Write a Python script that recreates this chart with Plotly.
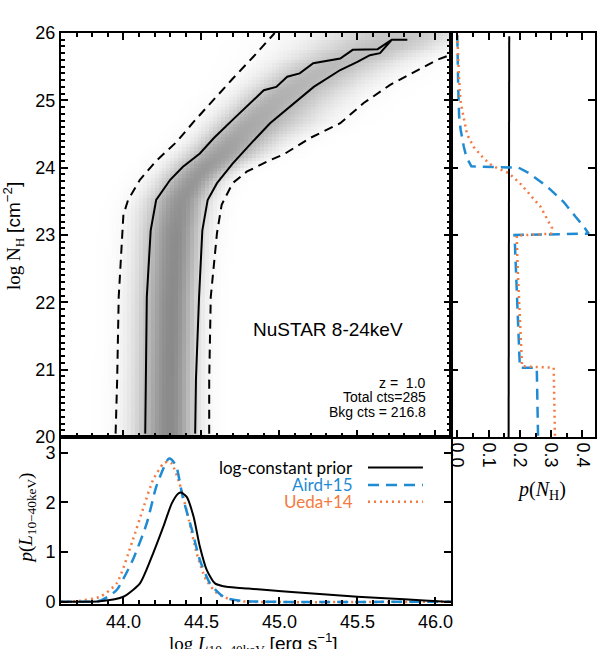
import numpy as np
import plotly.graph_objects as go

BLUE = "#1f8bd2"
ORANGE = "#f47a40"

# main panel contours (log L, log NH)
in_lo_L = [44.14, 44.143, 44.15, 44.175, 44.21, 44.30, 44.38, 44.49, 44.58, 44.70, 44.83, 44.90,
           44.98, 45.05, 45.13, 45.217, 45.39, 45.47, 45.63, 45.72, 45.82]
in_lo_NH = [20.05, 20.85, 22.08, 23.07, 23.52, 23.82, 24.01, 24.21, 24.44, 24.71, 25.0, 25.15,
            25.2, 25.35, 25.4, 25.55, 25.62, 25.75, 25.76, 25.90, 25.90]
in_hi_L = [44.46, 44.465, 44.485, 44.506, 44.54, 44.60, 44.70, 44.83, 44.94, 45.05, 45.13, 45.22,
           45.39, 45.50, 45.58, 45.645, 45.72]
in_hi_NH = [20.05, 20.85, 22.08, 23.07, 23.52, 23.77, 24.06, 24.39, 24.66, 24.88, 25.03, 25.20,
            25.45, 25.57, 25.67, 25.70, 25.90]
out_lo_L = [43.95, 43.96, 43.97, 43.99, 44.0, 44.03, 44.106, 44.21, 44.34, 44.45, 44.58, 44.70,
            44.83, 44.94, 44.97]
out_lo_NH = [20.05, 20.85, 22.08, 23.03, 23.3, 23.52, 23.82, 24.1, 24.38, 24.68, 25.02, 25.32,
             25.64, 25.92, 26.0]
out_hi_L = [44.55, 44.55, 44.56, 44.60, 44.63, 44.70, 44.79, 44.92, 45.03, 45.196, 45.39, 45.54,
            45.71, 46.01, 46.1]
out_hi_NH = [20.05, 20.85, 22.08, 23.03, 23.45, 23.77, 23.94, 24.09, 24.2, 24.44, 24.66, 24.96,
             25.23, 25.60, 25.68]

# darkness of the ridge of the density map along NH
ridge_NH = [20.0, 22.0, 23.0, 24.0, 24.5, 25.0, 25.5, 26.0]
ridge_level = [0.92, 0.92, 0.9, 0.8, 0.7, 0.62, 0.54, 0.46]

# right panel: p(NH)
nh_const = [20.0, 21.0, 22.0, 23.0, 24.0, 25.0, 25.95]
p_const = [0.164, 0.164, 0.164, 0.165, 0.165, 0.166, 0.166]
nh_aird = [20.02, 20.5, 21.03, 21.03, 21.5, 22.0, 22.5, 23.0, 23.02, 23.15, 23.27, 23.49, 23.72,
           23.92, 24.0, 24.02, 24.16, 24.31, 24.56, 24.76, 25.2, 25.6, 26.0]
p_aird = [0.258, 0.256, 0.254, 0.200, 0.196, 0.192, 0.187, 0.183, 0.420, 0.400, 0.378, 0.340,
          0.287, 0.228, 0.196, 0.045, 0.029, 0.021, 0.011, 0.006, 0.003, 0.001, 0.0]
nh_ueda = [20.02, 20.5, 21.03, 21.05, 21.5, 22.0, 22.5, 22.99, 23.02, 23.1, 23.42, 23.77, 23.92,
           24.03, 24.14, 24.31, 24.5, 24.8, 25.0, 25.4, 25.8, 26.0]
p_ueda = [0.312, 0.311, 0.308, 0.207, 0.202, 0.197, 0.193, 0.190, 0.300, 0.303, 0.266, 0.200,
          0.164, 0.111, 0.084, 0.052, 0.031, 0.018, 0.010, 0.005, 0.002, 0.0]

# bottom panel: p(L)
L_const = [43.6, 43.85, 44.0, 44.106, 44.19, 44.256, 44.31, 44.352, 44.37, 44.406, 44.45, 44.49,
           44.534, 44.587, 44.66, 44.8, 44.92, 45.1, 45.5, 45.8, 46.07, 46.1]
pL_const = [0.0, 0.01, 0.1, 0.37, 0.97, 1.51, 1.98, 2.18, 2.2, 2.11, 1.71, 1.11,
            0.64, 0.37, 0.30, 0.265, 0.235, 0.19, 0.10, 0.05, 0.0, 0.0]
L_aird = [43.6, 43.8, 43.85, 43.9, 43.957, 44.06, 44.15, 44.21, 44.27, 44.29, 44.31, 44.34, 44.38,
          44.44, 44.49, 44.555, 44.62, 44.66, 44.75, 44.9, 46.1]
pL_aird = [0.0, 0.005, 0.02, 0.1, 0.235, 0.84, 1.58, 2.31, 2.78, 2.88, 2.86, 2.72, 2.11,
           1.44, 0.84, 0.37, 0.15, 0.07, 0.02, 0.0, 0.0]
L_ueda = [43.6, 43.7, 43.85, 43.957, 44.06, 44.13, 44.19, 44.256, 44.285, 44.31, 44.36, 44.42,
          44.47, 44.53, 44.6, 44.7, 44.8, 46.1]
pL_ueda = [0.0, 0.01, 0.1, 0.37, 1.24, 1.91, 2.45, 2.78, 2.82, 2.78, 2.38, 1.64,
           0.97, 0.44, 0.17, 0.03, 0.0, 0.0]

legend_names = ["log-constant prior", "Aird+15", "Ueda+14"]

# density map built around the contours
L_grid = np.arange(43.6125, 46.1, 0.025)
NH_grid = np.arange(20.025, 26.0, 0.05)
slope = (out_hi_L[-1] - out_hi_L[-2]) / (out_hi_NH[-1] - out_hi_NH[-2])
z = np.zeros((len(NH_grid), len(L_grid)))
for i, nh in enumerate(NH_grid):
    c = 0.5 * (np.interp(nh, in_lo_NH, in_lo_L) + np.interp(nh, in_hi_NH, in_hi_L))
    lo = np.interp(nh, out_lo_NH, out_lo_L)
    hi = np.interp(nh, out_hi_NH, out_hi_L)
    if nh > out_hi_NH[-1]:
        hi = out_hi_L[-1] + slope * (nh - out_hi_NH[-1])
    t = np.where(L_grid < c, (c - L_grid) / (c - lo), (L_grid - c) / (hi - c))
    z[i] = np.interp(nh, ridge_NH, ridge_level) * np.exp(-0.5 * (2.3 * t) ** 2)

fig = go.Figure()
fig.add_trace(go.Heatmap(x=L_grid, y=NH_grid, z=z, zmin=0, zmax=1, showscale=False,
                         colorscale=[[0, "#ffffff"], [1, "#808080"]], zsmooth=False,
                         xaxis="x", yaxis="y", hoverinfo="skip"))
fig.add_trace(go.Scatter(x=in_lo_L + in_hi_L[::-1], y=in_lo_NH + in_hi_NH[::-1], mode="lines",
                         line=dict(color="black", width=2), xaxis="x", yaxis="y"))
for xs, ys in [(out_lo_L, out_lo_NH), (out_hi_L, out_hi_NH)]:
    fig.add_trace(go.Scatter(x=xs, y=ys, mode="lines", line=dict(color="black", width=2, dash="9px,6px"),
                             xaxis="x", yaxis="y"))

styles = [dict(color="black", width=2),
          dict(color=BLUE, width=2.5, dash="11px,7px"),
          dict(color=ORANGE, width=2.5, dash="2px,4px")]

for p, nh, st in [(p_const, nh_const, styles[0]), (p_aird, nh_aird, styles[1]), (p_ueda, nh_ueda, styles[2])]:
    fig.add_trace(go.Scatter(x=p, y=nh, mode="lines", line=st, xaxis="x2", yaxis="y2"))

for L, pl, st in [(L_ueda, pL_ueda, styles[2]), (L_aird, pL_aird, styles[1]), (L_const, pL_const, styles[0])]:
    fig.add_trace(go.Scatter(x=L, y=pl, mode="lines", line=dict(st, shape="spline", smoothing=0.6),
                             xaxis="x3", yaxis="y3"))

ax = dict(showline=True, linecolor="black", linewidth=2, mirror="ticks", ticks="inside",
          ticklen=7, tickwidth=1.5, tickcolor="black", showgrid=False, zeroline=False,
          automargin=False, tickfont=dict(family="Liberation Sans", size=18, color="black"))

def minor(d, n=4):
    return dict(ticks="inside", ticklen=n, tickwidth=1.5, tickcolor="black", dtick=d, showgrid=False)

xd = 390 / 534
yd = 167 / 571
fig.update_layout(
    template="none",
    width=598, height=649, margin=dict(l=61, r=3, t=33, b=45, autoexpand=False),
    paper_bgcolor="white", plot_bgcolor="white", showlegend=False,
    font=dict(family="Liberation Sans", color="black"),
    xaxis=dict(ax, domain=[0, xd], anchor="y", range=[43.6, 46.1], tick0=44, dtick=0.5,
               minor=minor(0.1), showticklabels=False),
    yaxis=dict(ax, domain=[yd, 1], anchor="x", range=[20, 26], dtick=1, minor=minor(0.1)),
    xaxis2=dict(ax, domain=[xd, 1], anchor="y2", range=[-0.02, 0.44], tick0=0, dtick=0.1,
                tickformat=".1f", tickangle=90, minor=minor(0.05)),
    yaxis2=dict(ax, domain=[yd, 1], anchor="x2", matches="y", range=[20, 26], dtick=1,
                showticklabels=False),
    xaxis3=dict(ax, domain=[0, xd], anchor="y3", matches="x", range=[43.6, 46.1], tick0=44,
                dtick=0.5, tickformat=".1f", minor=minor(0.1), mirror=True),
    yaxis3=dict(ax, domain=[0, yd], anchor="x3", range=[-0.046, 3.316], dtick=1),
)

serif = "Liberation Serif"
sans = "Liberation Sans"
ann = []
ann.append(dict(text="NuSTAR 8-24keV", x=45.31, y=21.59, xref="x", yref="y", showarrow=False,
                xanchor="center", yanchor="middle", font=dict(family=sans, size=19, color="black")))
for txt, yy in [("z =  1.0", 20.80), ("Total cts=285", 20.59), ("Bkg cts = 216.8", 20.37)]:
    ann.append(dict(text=txt, x=45.953, y=yy, xref="x", yref="y", xanchor="right", yanchor="middle",
                    showarrow=False, font=dict(family=sans, size=14, color="black")))
ann.append(dict(text="log N<sub>H</sub> <span style='font-family:Liberation Sans'>[cm<sup>−2</sup>]</span>",
                x=-0.088, y=0.6445, xref="paper", yref="paper", xanchor="center", yanchor="middle",
                textangle=-90, showarrow=False, font=dict(family=serif, size=19, color="black")))
ann.append(dict(text="<i>p</i>(<i>L</i><sub>10−40keV</sub>)", x=-0.064, y=0.151, xref="paper",
                yref="paper", xanchor="center", yanchor="middle", textangle=-90, showarrow=False,
                font=dict(family=serif, size=19, color="black")))
ann.append(dict(text="log <i>L</i><sub>10−40keV</sub> <span style='font-family:Liberation Sans'>[erg s<sup>−1</sup>]</span>",
                x=0.36, y=-0.042, xref="paper", yref="paper", xanchor="center", yanchor="top",
                showarrow=False, font=dict(family=serif, size=19, color="black")))
ann.append(dict(text="<i>p</i>(<i>N</i><sub>H</sub>)", x=0.899, y=0.198, xref="paper", yref="paper",
                xanchor="center", yanchor="middle", showarrow=False,
                font=dict(family=serif, size=20, color="black")))

shapes = []
for name, st, yy in zip(legend_names, styles, [2.70, 2.35, 2.01]):
    ann.append(dict(text=name, x=45.485, y=yy, xref="x3", yref="y3", xanchor="right", yanchor="middle",
                    showarrow=False, font=dict(family="Lato", size=17, color=st["color"])))
    shapes.append(dict(type="line", x0=45.568, x1=45.92, y0=yy, y1=yy, xref="x3", yref="y3",
                       line=st))
fig.update_layout(annotations=ann, shapes=shapes)

fig.write_html("out.html", config={"displayModeBar": False},
               post_script="document.body.style.margin='0px';")
